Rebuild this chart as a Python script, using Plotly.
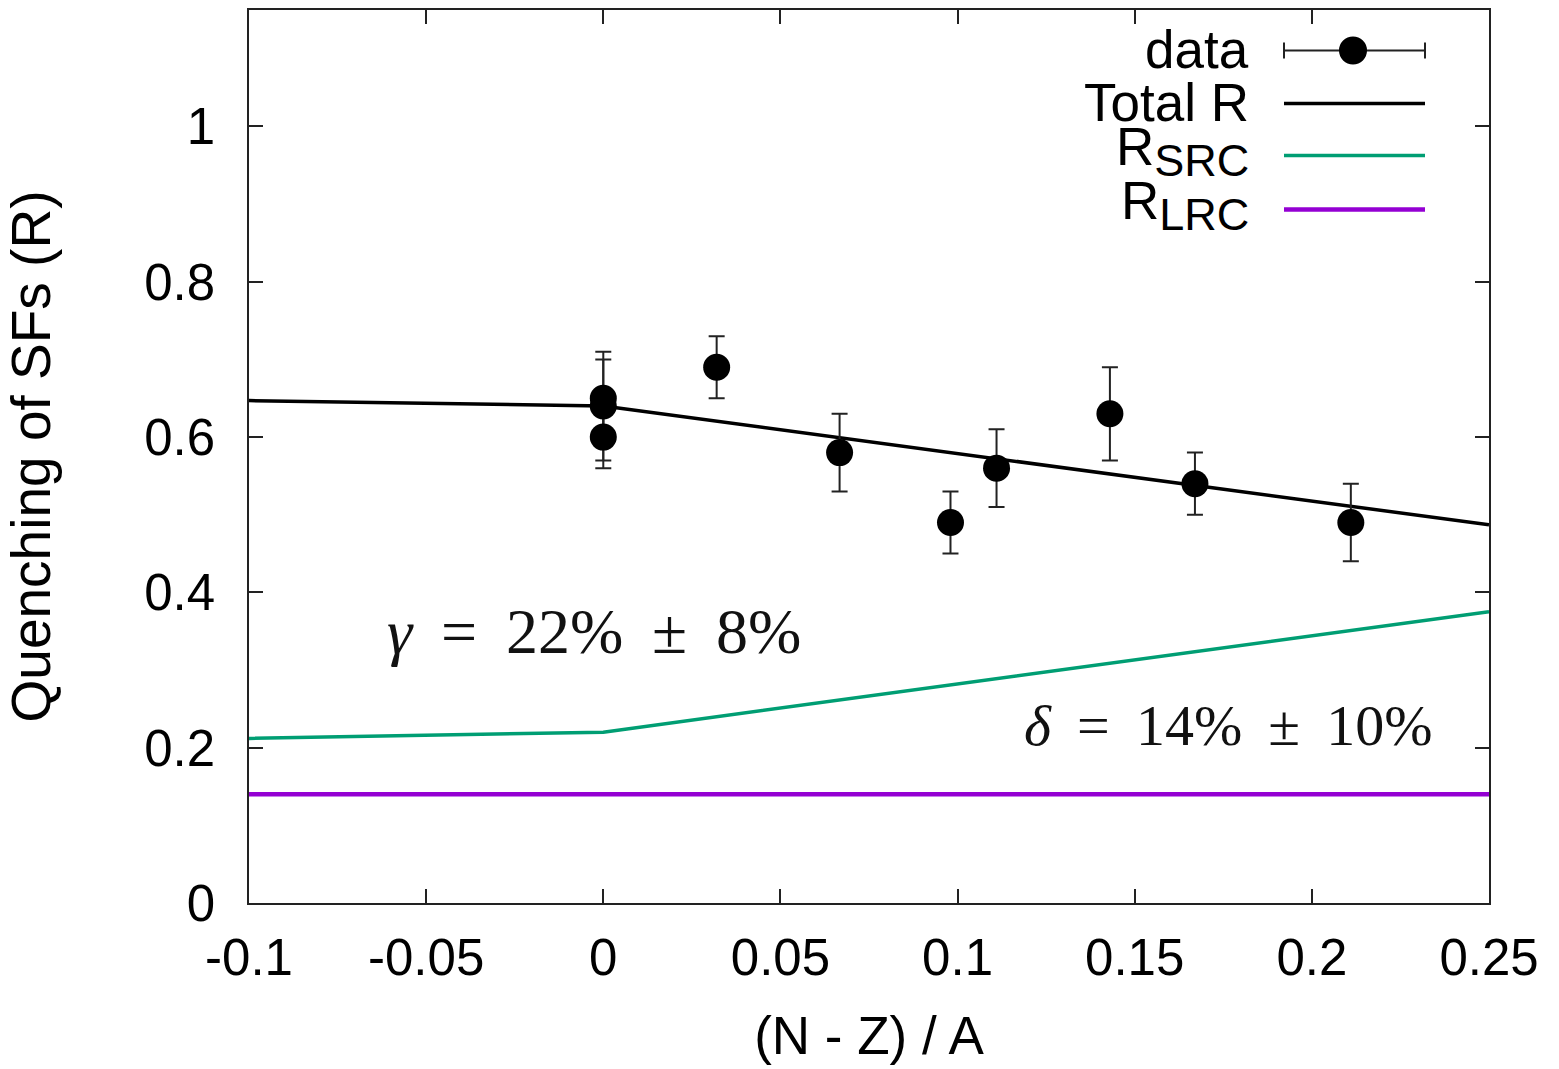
import plotly.graph_objects as go

# ---- data ----
x_data = [0.0, 0.0, 0.0, 0.032, 0.0667, 0.098, 0.111, 0.143, 0.167, 0.211]
y_data = [0.65, 0.64, 0.60, 0.69, 0.58, 0.49, 0.56, 0.63, 0.54, 0.49]
err_plus = [0.06, 0.06, 0.04, 0.04, 0.05, 0.04, 0.05, 0.06, 0.04, 0.05]
err_minus = [0.06, 0.07, 0.04, 0.04, 0.05, 0.04, 0.05, 0.06, 0.04, 0.05]

x_curve = [-0.1, 0.0, 0.25]
total_r = [0.647, 0.640, 0.487]
r_src = [0.212, 0.220, 0.375]
x_lrc = [-0.1, 0.25]
r_lrc = [0.14, 0.14]

x_ticks = [-0.1, -0.05, 0, 0.05, 0.1, 0.15, 0.2, 0.25]
x_ticklabels = ["-0.1", "-0.05", "0", "0.05", "0.1", "0.15", "0.2", "0.25"]
y_ticks = [0, 0.2, 0.4, 0.6, 0.8, 1]
y_ticklabels = ["0", "0.2", "0.4", "0.6", "0.8", "1"]

GREEN = "#009e73"
PURPLE = "#9400d3"
SANS = "Liberation Sans, Arial, sans-serif"
SERIF = "Liberation Serif, DejaVu Serif, serif"

fig = go.Figure()
fig.add_trace(go.Scatter(x=x_curve, y=total_r, mode="lines",
                         line=dict(color="black", width=3.5), name="Total R"))
fig.add_trace(go.Scatter(x=x_curve, y=r_src, mode="lines",
                         line=dict(color=GREEN, width=3.5), name="R_SRC"))
fig.add_trace(go.Scatter(x=x_lrc, y=r_lrc, mode="lines",
                         line=dict(color=PURPLE, width=4.5), name="R_LRC"))
fig.add_trace(go.Scatter(x=x_data, y=y_data, mode="markers",
                         marker=dict(color="black", size=27),
                         error_y=dict(type="data", array=err_plus, arrayminus=err_minus,
                                      symmetric=False, color="#222", thickness=2, width=8),
                         name="data"))

# ---- custom gnuplot-style legend (paper coordinates) ----
L = 249.0; R = 1489.0; T = 9.5; B = 903.0
def px(xp):
    return (xp - L) / (R - L)
def py(yp):
    return (B - yp) / (B - T)

text_right = px(1251)
s0, s1 = px(1284), px(1425)
rows = [50, 103, 155, 209]

shapes = []
annotations = []
legend_labels = ["data", "Total R",
                 "R<sub><span style='font-size:45px'>SRC</span></sub>",
                 "R<sub><span style='font-size:45px'>LRC</span></sub>"]
label_y = [49, 102, 151, 205]
for lab, yy in zip(legend_labels, label_y):
    annotations.append(dict(xref="paper", yref="paper", x=text_right, y=py(yy),
                            xanchor="right", yanchor="middle", text=lab, showarrow=False,
                            font=dict(family=SANS, size=53, color="black")))

# data sample
shapes.append(dict(type="line", xref="paper", yref="paper", x0=s0, x1=s1,
                   y0=py(rows[0]), y1=py(rows[0]), line=dict(color="#222", width=2)))
for xc in (s0, s1):
    shapes.append(dict(type="line", xref="paper", yref="paper", xsizemode="scaled",
                       ysizemode="pixel", yanchor=py(rows[0]), x0=xc, x1=xc, y0=-8, y1=8,
                       line=dict(color="#222", width=2)))
shapes.append(dict(type="circle", xref="paper", yref="paper", xsizemode="pixel",
                   ysizemode="pixel", xanchor=px(1353), yanchor=py(rows[0]),
                   x0=-14, x1=14, y0=-14, y1=14, fillcolor="black", line=dict(width=0)))
for yy, col, w in zip(rows[1:], ["black", GREEN, PURPLE], [3.5, 3.5, 4.5]):
    shapes.append(dict(type="line", xref="paper", yref="paper", x0=s0, x1=s1,
                       y0=py(yy), y1=py(yy), line=dict(color=col, width=w)))

# ---- in-plot text ----
annotations.append(dict(x=-0.0025, y=0.349, xref="x", yref="y", showarrow=False,
                        text="<i>γ</i>\u2009 = \u200922%\u2009 ± \u20098%",
                        font=dict(family=SERIF, size=64, color="#111")))
annotations.append(dict(x=0.1765, y=0.229, xref="x", yref="y", showarrow=False,
                        text="<i>δ</i>\u2009 = \u200914%\u2009 ± \u200910%",
                        font=dict(family=SERIF, size=58, color="#111")))

axis_common = dict(showline=True, linecolor="#222", linewidth=1.5, mirror="ticks",
                   ticks="inside", ticklen=14, tickwidth=1.5, tickcolor="#222",
                   showgrid=False, zeroline=False,
                   tickfont=dict(family=SANS, size=51, color="black"))

fig.update_layout(
    width=1559, height=1069,
    margin=dict(l=249, r=70, t=10, b=166, autoexpand=False),
    paper_bgcolor="white", plot_bgcolor="white",
    showlegend=False,
    xaxis=dict(range=[-0.1, 0.25], tickvals=x_ticks, ticktext=x_ticklabels,
               ticklabelstandoff=9,
               title=dict(text="(N - Z) / A", font=dict(family=SANS, size=53, color="black"),
                          standoff=32),
               **axis_common),
    yaxis=dict(range=[0, 1.15], tickvals=y_ticks, ticktext=y_ticklabels,
               ticklabelstandoff=22,
               title=dict(text="Quenching of SFs (R)", font=dict(family=SANS, size=55, color="black"),
                          standoff=79),
               **axis_common),
    shapes=shapes,
    annotations=annotations,
)

fig.write_html("out.html")
